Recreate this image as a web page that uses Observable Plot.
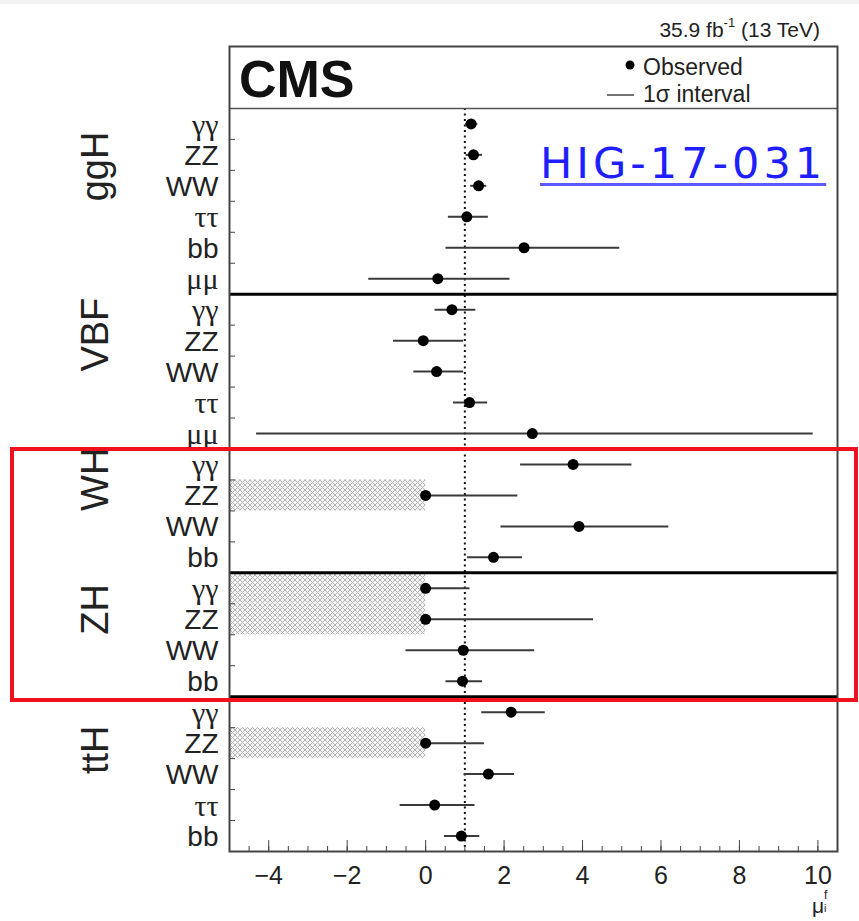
<!DOCTYPE html>
<html>
<head>
<meta charset="utf-8">
<script src="https://cdn.jsdelivr.net/npm/d3@7"></script>
<script src="https://cdn.jsdelivr.net/npm/@observablehq/plot@0.6"></script>
<style>
  body { margin: 0; background: #fff; }
  #wrap { position: relative; width: 859px; height: 921px; overflow: hidden; background: #fff;
          font-family: "Liberation Sans", Arial, Helvetica, sans-serif; color: #111; }
  #wrap svg { position: absolute; left: 0; top: 0; }
  .ov { position: absolute; white-space: nowrap; line-height: 1; }
</style>
</head>
<body>
<div id="wrap"></div>
<script>
// ---------------- data ----------------
const groups      = ["ggH", "VBF", "WH", "ZH", "ttH"];
const groupSizes  = [6, 5, 4, 4, 5];
const decays      = ["γγ","ZZ","WW","ττ","bb","μμ",
                     "γγ","ZZ","WW","ττ","μμ",
                     "γγ","ZZ","WW","bb",
                     "γγ","ZZ","WW","bb",
                     "γγ","ZZ","WW","ττ","bb"];
const observed    = [1.16, 1.22, 1.35, 1.05, 2.51, 0.31,
                     0.67, -0.06, 0.28, 1.12, 2.72,
                     3.76, 0.00, 3.91, 1.73,
                     0.00, 0.00, 0.96, 0.94,
                     2.18, 0.00, 1.60, 0.23, 0.91];
const lower       = [1.02, 1.03, 1.15, 0.58, 0.52, -1.45,
                     0.24, -0.82, -0.30, 0.71, -4.31,
                     2.42, 0.00, 1.92, 1.07,
                     0.00, 0.00, -0.50, 0.52,
                     1.43, 0.00, 0.98, -0.65, 0.48];
const upper       = [1.33, 1.45, 1.56, 1.60, 4.95, 2.15,
                     1.28, 0.97, 0.97, 1.58, 9.88,
                     5.26, 2.35, 6.20, 2.47,
                     1.13, 4.28, 2.78, 1.45,
                     3.05, 1.50, 2.27, 1.26, 1.38];
// rows where the fit sits on the physical boundary mu >= 0 (hatched region)
const atBoundary  = [false,false,false,false,false,false,
                     false,false,false,false,false,
                     false,true,false,false,
                     true,true,false,false,
                     false,true,false,false,false];
const xDomain     = [-5, 10.5];
const majorTicks  = [-4, -2, 0, 2, 4, 6, 8, 10];
const smTicks     = d3.range(-4.5, 10.01, 0.5);
const smLabel     = 1; // SM expectation

// ---------------- derived tables ----------------
const groupOf = [];
const groupInfo = [];
{
  let start = 0;
  groups.forEach((g, k) => {
    for (let j = 0; j < groupSizes[k]; j++) groupOf.push(g);
    groupInfo.push({name: g, start, end: start + groupSizes[k], mid: start + groupSizes[k] / 2});
    start += groupSizes[k];
  });
}
const nRows = decays.length;
const rows = decays.map((d, i) => ({
  i, decay: d, prod: groupOf[i], mu: observed[i], lo: lower[i], hi: upper[i],
  c: i + 0.5, hatched: atBoundary[i], greek: /[γτμ]/.test(d)
}));
const groupEnds = groupInfo.slice(0, -1).map(g => g.end);
const rowBounds = d3.range(1, nRows).filter(b => !groupEnds.includes(b));

const fmt = d => d < 0 ? "\u2212" + (-d) : String(d);

const plot = Plot.plot({
  width: 859, height: 921,
  marginLeft: 229, marginRight: 22, marginTop: 46, marginBottom: 70,
  style: {fontFamily: "'Liberation Sans', Arial, sans-serif", background: "transparent", color: "#111"},
  x: {domain: xDomain},
  y: {domain: [-2, nRows], reverse: true},
  marks: [
    Plot.rect(rows.filter(r => r.hatched), {
      x1: () => xDomain[0], x2: () => 0, y1: "i", y2: d => d.i + 1, fill: "url(#hatch)"
    }),
    Plot.ruleX([smLabel], {y1: () => 0, y2: () => nRows, stroke: "#111", strokeWidth: 2, strokeDasharray: "2,3.5"}),
    Plot.ruleY(rows, {y: "c", x1: "lo", x2: "hi", stroke: "#3a3a3a", strokeWidth: 2}),
    Plot.dot(rows, {x: "mu", y: "c", r: 5.5, fill: "#000", stroke: null}),
    Plot.ruleY([0], {stroke: "#555", strokeWidth: 1.5}),
    Plot.ruleY(groupEnds, {stroke: "#000", strokeWidth: 3}),
    Plot.axisX({ticks: majorTicks, tickSize: -11, tickFormat: () => "", label: null, stroke: "#444"}),
    Plot.axisX({ticks: smTicks, tickSize: -5, tickFormat: () => "", label: null, stroke: "#444"}),
    Plot.axisX({ticks: majorTicks, tickSize: 0, tickPadding: 15, tickFormat: fmt, fontSize: 25, label: null, fill: "#222"}),
    Plot.axisY({ticks: rowBounds, tickSize: -6, tickFormat: () => "", label: null, stroke: "#444"}),
    Plot.text(rows.filter(r => !r.greek), {
      y: "c", text: "decay", frameAnchor: "left", dx: -11, dy: 1, textAnchor: "end", fontSize: 28, fill: "#222"
    }),
    Plot.text(rows.filter(r => r.greek), {
      y: "c", text: "decay", frameAnchor: "left", dx: -11, dy: 1, textAnchor: "end", fontSize: 30,
      fontFamily: "'Liberation Serif', 'Times New Roman', serif", fill: "#222"
    }),
    Plot.text(groupInfo, {
      y: "mid", text: "name", frameAnchor: "left", dx: -134, rotate: -90, fontSize: 38, fill: "#222"
    }),
    Plot.frame({stroke: "#444", strokeWidth: 2})
  ]
});

const svg = plot.tagName.toLowerCase() === "svg" ? plot : plot.querySelector("svg");
const defs = document.createElementNS("http://www.w3.org/2000/svg", "defs");
defs.innerHTML = `<pattern id="hatch" patternUnits="userSpaceOnUse" width="5" height="5">
  <rect width="5" height="5" fill="#f4f4f4"/>
  <path d="M0,0L5,5M5,0L0,5" stroke="#b4b4b4" stroke-width="1"/>
</pattern>`;
svg.insertBefore(defs, svg.firstChild);

const wrap = document.getElementById("wrap");
wrap.appendChild(plot);

const ys = plot.scale("y");

function addOv(html, style) {
  const d = document.createElement("div");
  d.className = "ov";
  d.innerHTML = html;
  Object.assign(d.style, style);
  wrap.appendChild(d);
  return d;
}

// faint grey strip at the very top
addOv("", {left: "0px", top: "0px", width: "859px", height: "4px", background: "#f3f3f3"});

// energy / luminosity label
addOv('35.9 fb<sup style="font-size:13px;position:relative;top:-3px;vertical-align:top">-1</sup> (13 TeV)',
  {right: "39px", top: "19px", fontSize: "21px", color: "#222"});

// CMS
addOv("CMS", {left: "239px", top: "53px", fontSize: "52px", fontWeight: "bold", color: "#111"});

// legend
addOv('<svg width="30" height="14" style="position:absolute;left:-24px;top:2px"><circle cx="11" cy="7" r="4.5" fill="#000"/></svg>Observed',
  {left: "643px", top: "56px", fontSize: "23px", color: "#222"});
addOv('<svg width="30" height="14" style="position:absolute;left:-36px;top:5px"><line x1="0" x2="27" y1="7" y2="7" stroke="#444" stroke-width="1.5"/></svg>1σ interval',
  {left: "643px", top: "83px", fontSize: "23px", color: "#222"});

// HIG link text
addOv("HIG-17-031", {
  left: "540px", top: "142px", fontSize: "43px", letterSpacing: "4px",
  fontFamily: "'DejaVu Sans', Verdana, sans-serif", color: "#1e1eff",
  textDecoration: "underline", textDecorationColor: "#5a5aff", textDecorationThickness: "3px",
  textUnderlineOffset: "5px"
});

// x-axis title mu_i^f
addOv('<span style="position:relative">μ<span style="position:absolute;left:12px;top:-5px;font-size:12px;line-height:1">f</span><span style="position:absolute;left:12px;top:9px;font-size:11px;line-height:1">i</span></span>',
  {left: "812px", top: "895px", fontSize: "21px", color: "#222"});

// red highlight box around WH and ZH
const yTop = ys.apply(groupInfo[2].start), yBot = ys.apply(groupInfo[3].end);
addOv("", {
  left: "10px", top: (yTop - 2) + "px", width: "840px", height: (yBot - yTop) + "px",
  border: "4px solid #f0101e", boxSizing: "content-box"
});
</script>
</body>
</html>
